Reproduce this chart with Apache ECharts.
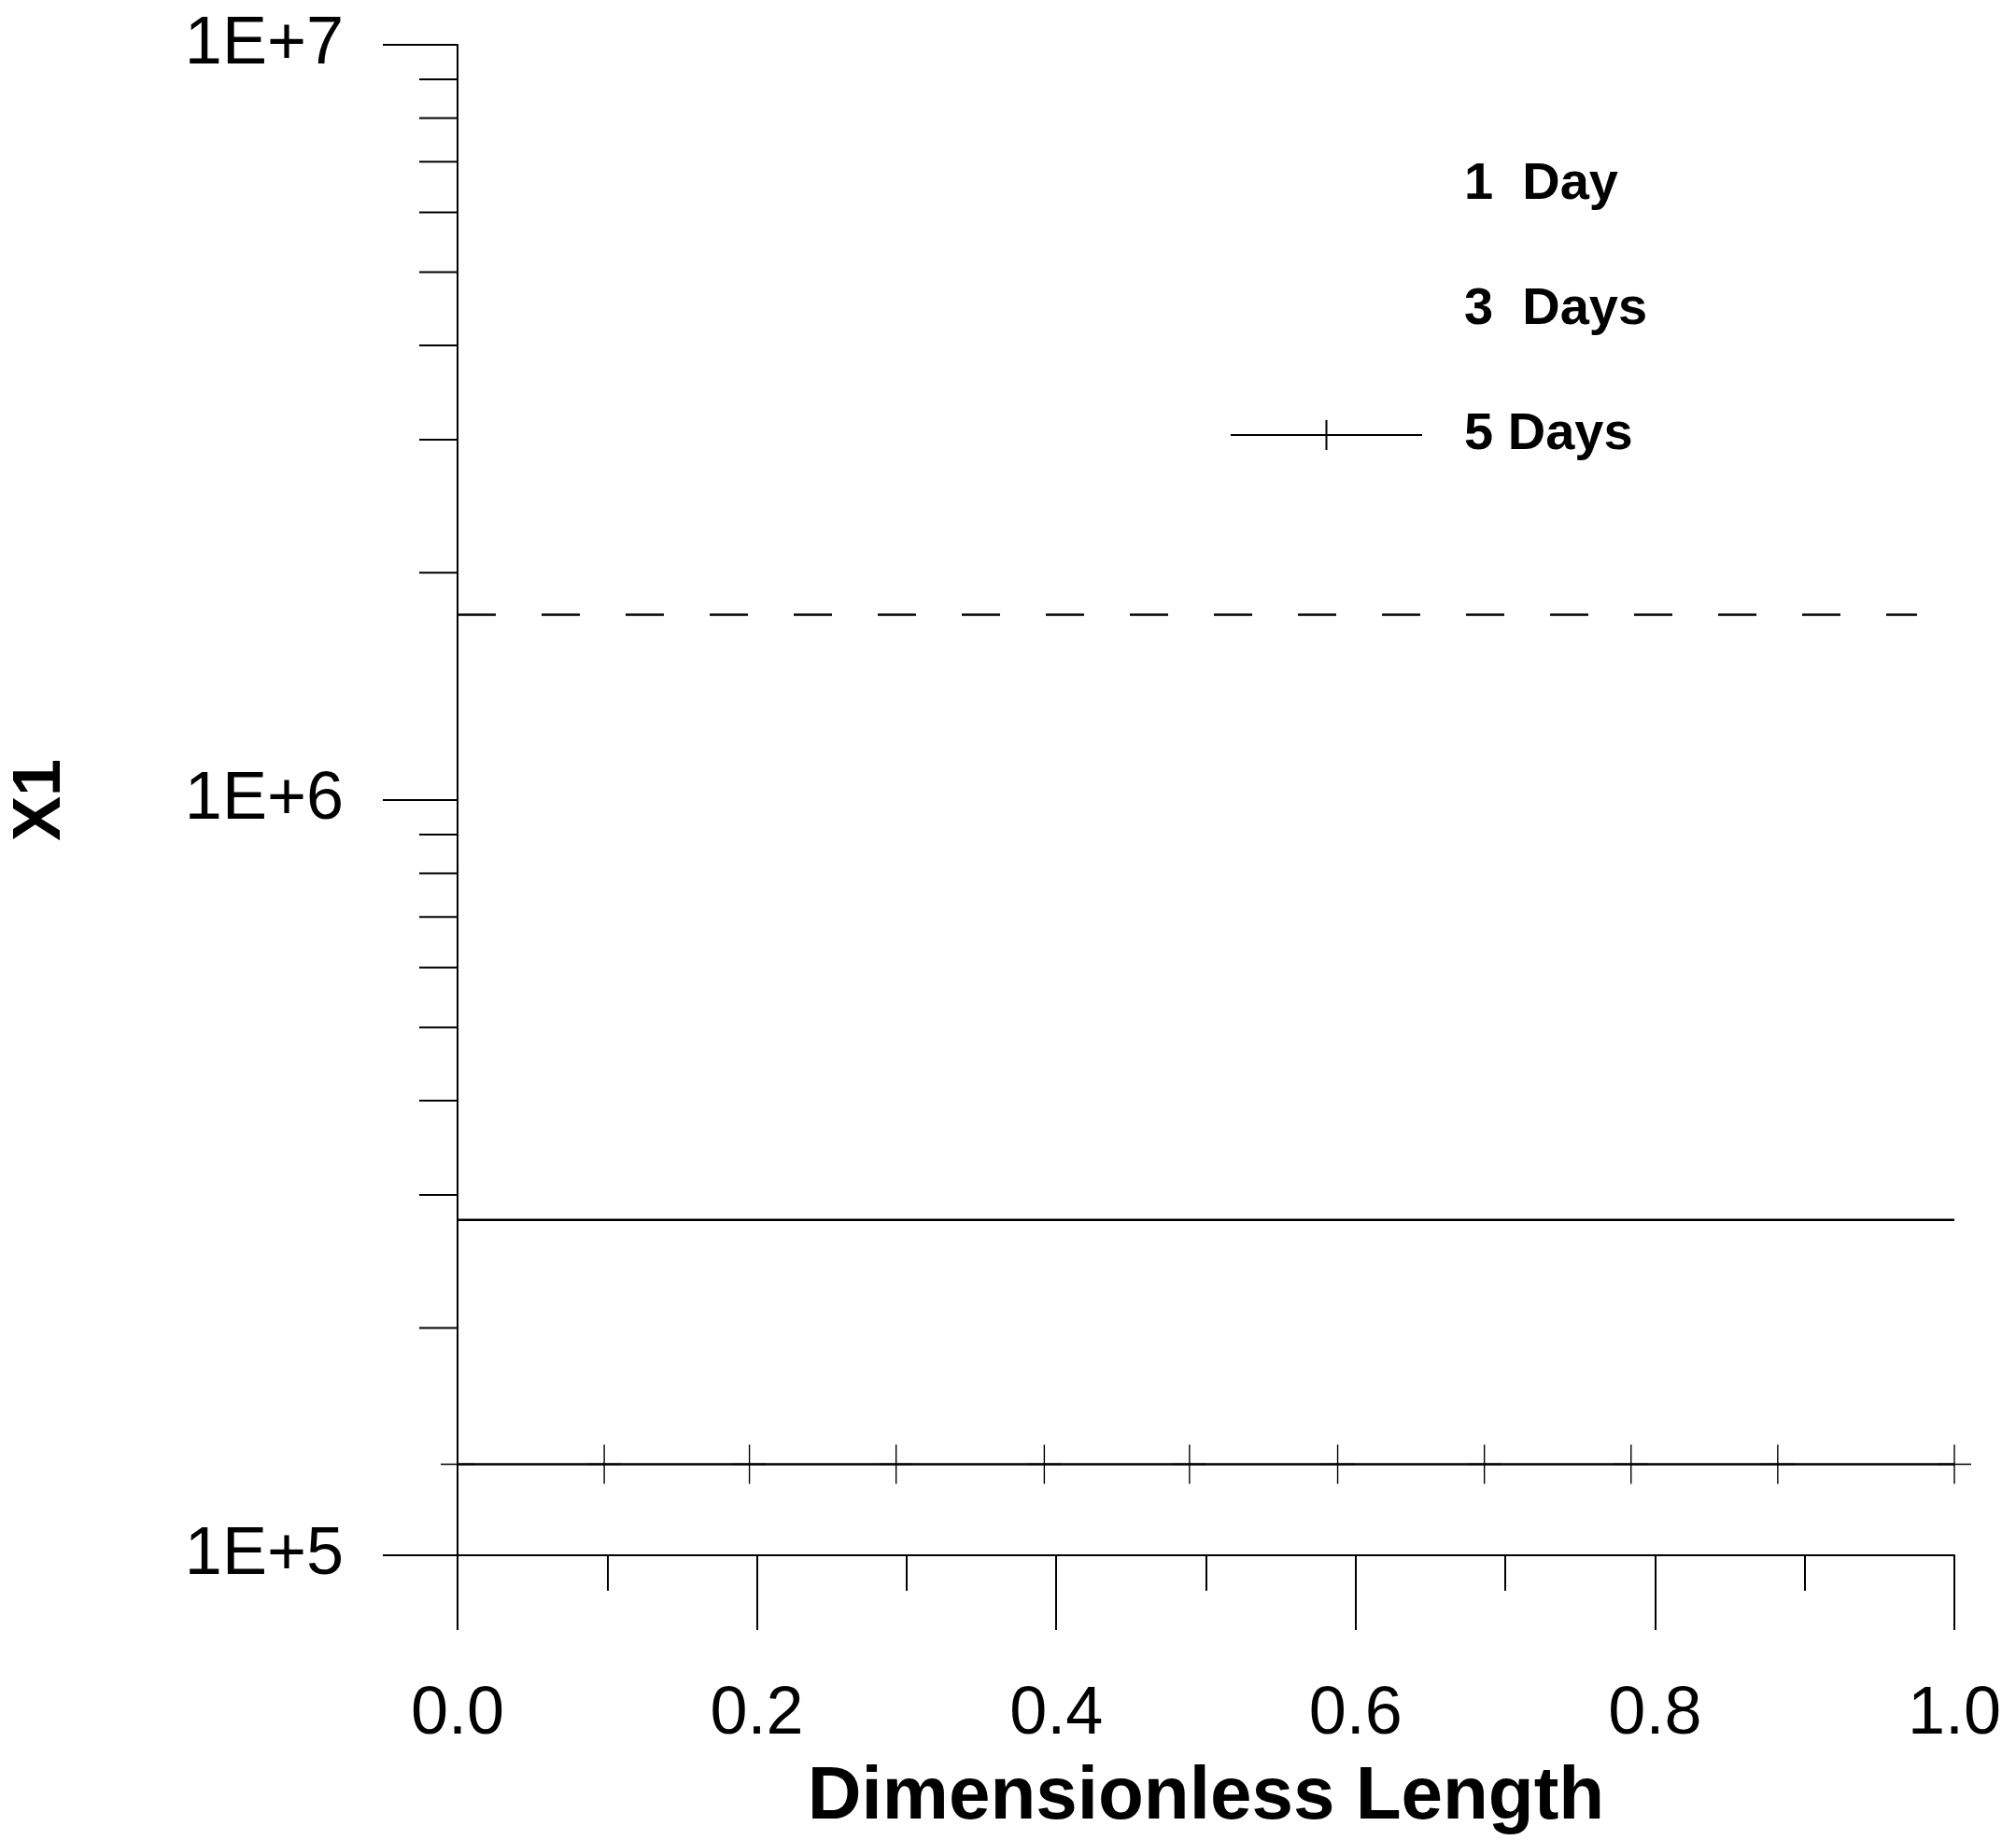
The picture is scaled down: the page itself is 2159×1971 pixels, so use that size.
<!DOCTYPE html>
<html><head><meta charset="utf-8">
<script src="https://cdn.jsdelivr.net/npm/echarts@6/dist/echarts.min.js"></script>
<style>html,body{margin:0;padding:0;background:#fff}#c{width:2159px;height:1971px}</style>
</head><body><div id="c"></div>
<script>
const xDay1 = [0, 1];
const yDay1 = [2.78e5, 2.78e5];
const xDay3 = [0, 0.975];
const yDay3 = [1.76e6, 1.76e6];
const xDay5 = [0, 0.098, 0.195, 0.293, 0.392, 0.489, 0.588, 0.686, 0.784, 0.882, 1.0];
const yDay5 = [1.32e5, 1.32e5, 1.32e5, 1.32e5, 1.32e5, 1.32e5, 1.32e5, 1.32e5, 1.32e5, 1.32e5, 1.32e5];
const yMinorTicks = [2e5,3e5,4e5,5e5,6e5,7e5,8e5,9e5,2e6,3e6,4e6,5e6,6e6,7e6,8e6,9e6];
const seriesNames = ['1  Day', '3  Days', '5 Days'];

const font = '"Liberation Sans Narrow", "Liberation Sans", Arial, sans-serif';
const pair = (xs, ys) => xs.map((x, i) => [x, ys[i]]);
const plus = 'path://M0,-1 L0,1 M-1,0 L1,0';

const chart = echarts.init(document.getElementById('c'));
chart.setOption({
  animation: false,
  backgroundColor: '#fff',
  grid: { left: 489, right: 66, top: 48, bottom: 303 },
  legend: {
    data: [{ name: seriesNames[0], icon: 'none' }, { name: seriesNames[1], icon: 'none' }, { name: seriesNames[2] }],
    orient: 'vertical', left: 1312, top: 165,
    itemWidth: 205, itemHeight: 40, itemGap: 78,
    textStyle: { fontFamily: font, fontWeight: 'bold', fontSize: 56, color: '#000', padding: [0, 0, 0, 40] }
  },
  xAxis: {
    type: 'value', min: 0, max: 1, interval: 0.2,
    axisLine: { lineStyle: { color: '#000', width: 2 } },
    axisTick: { length: 80, lineStyle: { color: '#000', width: 2 } },
    minorTick: { show: true, splitNumber: 2, length: 38, lineStyle: { color: '#000', width: 2 } },
    splitLine: { show: false },
    axisLabel: { margin: 135, fontFamily: font, fontSize: 72, color: '#000', formatter: v => v.toFixed(1) },
    name: 'Dimensionless Length', nameLocation: 'middle', nameGap: 220,
    nameTextStyle: { fontFamily: font, fontWeight: 'bold', fontSize: 80, color: '#000' }
  },
  yAxis: {
    type: 'log', logBase: 10, min: 1e5, max: 1e7,
    axisLine: { show: true, lineStyle: { color: '#000', width: 2 } },
    axisTick: { length: 80, lineStyle: { color: '#000', width: 2 } },
    splitLine: { show: false },
    axisLabel: { margin: 122, fontFamily: font, fontSize: 72, color: '#000',
      formatter: v => '1E+' + Math.round(Math.log10(v)) },
    name: 'X1', nameLocation: 'middle', nameGap: 410, nameRotate: 90,
    nameTextStyle: { fontFamily: font, fontWeight: 'bold', fontSize: 72, color: '#000' }
  },
  series: [
    { name: seriesNames[0], type: 'line', data: pair(xDay1, yDay1), symbol: 'none',
      lineStyle: { color: '#000', width: 2.5 }, itemStyle: { color: '#000' } },
    { name: seriesNames[1], type: 'line', data: pair(xDay3, yDay3), symbol: 'none',
      lineStyle: { color: '#000', width: 2.5, type: [41, 49] }, itemStyle: { color: '#000' } },
    { name: seriesNames[2], type: 'line', data: pair(xDay5, yDay5), symbol: plus, symbolSize: [36, 42],
      showAllSymbol: true,
      lineStyle: { color: '#000', width: 2.5 },
      itemStyle: { color: 'none', borderColor: '#000', borderWidth: 1.5 } },
    { type: 'custom', clip: false, silent: true,
      data: yMinorTicks.map(v => [0, v]),
      renderItem: (params, api) => {
        const p = api.coord([0, api.value(1)]);
        return { type: 'line', shape: { x1: p[0] - 41, y1: p[1], x2: p[0], y2: p[1] },
          style: { stroke: '#000', lineWidth: 2 } };
      } }
  ]
});
</script></body></html>
